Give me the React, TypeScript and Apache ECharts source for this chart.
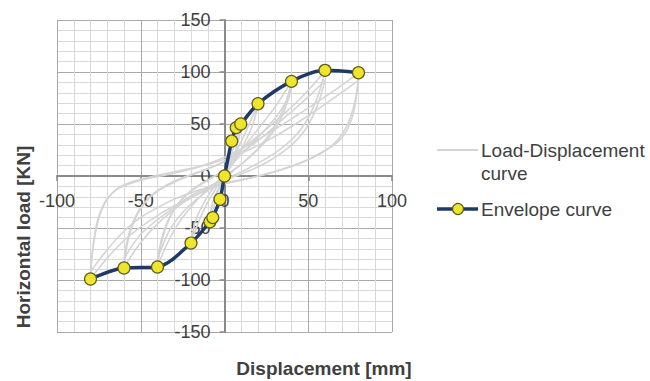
import React, { useEffect, useRef } from "react";
import * as echarts from "echarts";

// Axis ranges / ticks
const xMin = -100;
const xMax = 100;
const xStep = 50;
const yMin = -150;
const yMax = 150;
const yStep = 50;

// Envelope curve [displacement mm, load kN]
const envelope: [number, number][] = [
  [-80, -99], [-60, -88.5], [-40, -87.5], [-20, -64.5], [-8.7, -44], [-7, -40],
  [-2.7, -22.4], [0, 0], [4.3, 33.6], [7, 46.5], [9.7, 50], [20, 69.5],
  [40, 91], [60, 101.6], [80, 99.3],
];

// Load-displacement hysteresis cycles (read approximately)
const loop10: [number, number][] = [
  [-8.7, -44], [-7, -25], [-3, -10], [0, 0], [4, 20], [9.7, 50], [8, 32], [4, 14], [0, 2], [-4, -16], [-8.7, -44],
];
const loop20: [number, number][] = [
  [-20, -64], [-17, -42], [-11, -22], [-5, -8], [0, 2], [6, 20], [12, 40], [20, 69], [17, 50], [12, 32], [6, 14], [0, 0], [-6, -14], [-13, -35], [-20, -64],
];
const loop40: [number, number][] = [
  [-40, -87], [-37, -60], [-32, -38], [-24, -20], [-12, -6], [0, 6], [10, 25], [20, 45], [30, 66], [40, 91],
  [36, 68], [30, 48], [22, 30], [12, 14], [2, 2], [-8, -10], [-18, -26], [-30, -52], [-40, -87],
];
const loop40b: [number, number][] = [
  [-40, -80], [-36, -52], [-30, -32], [-20, -14], [-8, -2], [2, 8], [12, 24], [24, 44], [34, 64], [40, 84],
  [35, 60], [28, 40], [19, 24], [9, 10], [0, -2], [-10, -14], [-22, -30], [-32, -50], [-40, -80],
];
const loop60: [number, number][] = [
  [-60, -88], [-57, -58], [-51, -34], [-42, -17], [-30, -6], [-15, 4], [0, 14], [15, 32], [30, 52], [45, 74], [60, 101],
  [56, 78], [50, 56], [42, 38], [30, 22], [15, 8], [2, -2], [-10, -12], [-25, -26], [-40, -46], [-50, -64], [-60, -88],
];
const loop60b: [number, number][] = [
  [-60, -80], [-56, -50], [-49, -28], [-38, -12], [-24, -1], [-10, 7], [5, 18], [20, 34], [35, 55], [50, 76], [60, 92],
  [55, 66], [48, 44], [38, 27], [24, 12], [10, 2], [-5, -7], [-20, -19], [-35, -36], [-50, -56], [-60, -80],
];
const loop80: [number, number][] = [
  [-80, -99], [-78, -62], [-74, -34], [-66, -15], [-52, -5], [-32, 2], [-15, 9], [0, 18], [20, 35], [40, 55], [60, 76], [80, 99],
  [78.5, 74], [75.5, 53], [69, 35], [57, 22], [45, 12.5], [27, 3], [10, -4], [-5, -10], [-20, -21], [-38, -36], [-60, -62], [-80, -99],
];
const loop80b: [number, number][] = [
  [-80, -92], [-77, -54], [-72, -28], [-63, -11], [-47, -2], [-27, 5], [-8, 12], [10, 22], [30, 38], [50, 58], [68, 78], [80, 92],
  [77, 66], [72, 45], [64, 29], [52, 17], [36, 7], [18, -1], [0, -7], [-18, -15], [-36, -27], [-58, -50], [-80, -92],
];
const loops = [loop10, loop20, loop40, loop40b, loop60, loop60b, loop80, loop80b];

const legendNames = ["Load-Displacement", "curve", "Envelope curve"];
const xTitle = "Displacement [mm]";
const yTitle = "Horizontal load [KN]";

const FONT = "'Liberation Sans', Arial, sans-serif";
const TXT = "#404040";
const GRAY = "#d4d4d4";
const NAVY = "#1f3a68";
const YELLOW = "#efe62c";
const YSTROKE = "#5e5b1d";

export default function App() {
  const ref = useRef<HTMLDivElement>(null);
  useEffect(() => {
    if (!ref.current) return;
    const chart = echarts.init(ref.current, null, { renderer: "svg" });
    const axisCommon = {
      type: "value" as const,
      axisLine: { show: true, onZero: false, lineStyle: { color: "#8a8a8a", width: 2 } },
      axisTick: { show: true, length: 5, lineStyle: { color: "#8a8a8a", width: 1.5 } },
      axisLabel: { color: TXT, fontSize: 18, fontFamily: FONT },
      splitLine: { show: true, lineStyle: { color: "#a9a9a9", width: 1 } },
      minorTick: { show: false, splitNumber: 5 },
      minorSplitLine: { show: true, lineStyle: { color: "#d9d9d9", width: 1 } },
    };
    const series: any[] = loops.map((d) => ({
      type: "line",
      data: d,
      smooth: 0.4,
      showSymbol: false,
      symbol: "none",
      silent: true,
      z: 1,
      lineStyle: { color: GRAY, width: 1.6 },
    }));
    series.push({
      type: "line",
      data: envelope,
      smooth: 0.3,
      symbol: "circle",
      symbolSize: 12,
      showSymbol: true,
      z: 5,
      lineStyle: { color: NAVY, width: 3.5 },
      itemStyle: { color: YELLOW, borderColor: YSTROKE, borderWidth: 1.2 },
    });
    chart.setOption({
      animation: false,
      grid: { left: 57, right: 258, top: 20, bottom: 49, containLabel: false },
      xAxis: {
        ...axisCommon, position: "bottom", offset: -156,
        min: xMin, max: xMax, interval: xStep,
        axisLabel: { ...axisCommon.axisLabel, margin: 16 },
      },
      yAxis: {
        ...axisCommon, position: "left", offset: -167.5,
        min: yMin, max: yMax, interval: yStep,
        axisLabel: { ...axisCommon.axisLabel, margin: 14 },
      },
      series,
      graphic: [
        { type: "text", x: 324, y: 368, style: { text: xTitle, font: `bold 19px ${FONT}`, fill: TXT, textAlign: "center", textVerticalAlign: "middle" } },
        { type: "text", x: 23, y: 237, rotation: Math.PI / 2, style: { text: yTitle, font: `bold 19px ${FONT}`, fill: TXT, textAlign: "center", textVerticalAlign: "middle" } },
        { type: "line", shape: { x1: 437, y1: 150, x2: 478, y2: 150 }, style: { stroke: GRAY, lineWidth: 2 } },
        { type: "text", x: 481, y: 150, style: { text: legendNames[0], font: `19px ${FONT}`, fill: TXT, textVerticalAlign: "middle" } },
        { type: "text", x: 481, y: 173, style: { text: legendNames[1], font: `19px ${FONT}`, fill: TXT, textVerticalAlign: "middle" } },
        { type: "line", shape: { x1: 437, y1: 209, x2: 478, y2: 209 }, style: { stroke: NAVY, lineWidth: 3.5 } },
        { type: "circle", shape: { cx: 458, cy: 209, r: 5.5 }, style: { fill: YELLOW, stroke: YSTROKE, lineWidth: 1.2 } },
        { type: "text", x: 481, y: 209, style: { text: legendNames[2], font: `19px ${FONT}`, fill: TXT, textVerticalAlign: "middle" } },
      ],
    });
    return () => chart.dispose();
  }, []);
  return <div ref={ref} style={{ width: 650, height: 381, position: "absolute", left: 0, top: 0 }} />;
}
